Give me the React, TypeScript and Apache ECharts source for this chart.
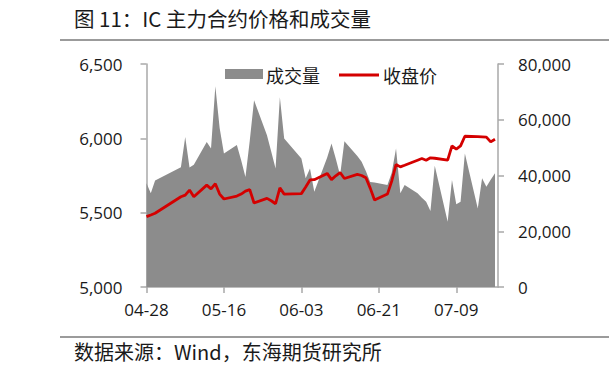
import React, { useEffect, useRef } from "react";
import * as echarts from "echarts";

// Trading days (2025)
const tradeDates = [
  "2025-04-28", "2025-04-29", "2025-04-30",
  "2025-05-06", "2025-05-07", "2025-05-08", "2025-05-09",
  "2025-05-12", "2025-05-13", "2025-05-14", "2025-05-15", "2025-05-16",
  "2025-05-19", "2025-05-20", "2025-05-21", "2025-05-22", "2025-05-23",
  "2025-05-26", "2025-05-27", "2025-05-28", "2025-05-29", "2025-05-30",
  "2025-06-03", "2025-06-04", "2025-06-05", "2025-06-06",
  "2025-06-09", "2025-06-10", "2025-06-11", "2025-06-12", "2025-06-13",
  "2025-06-16", "2025-06-17", "2025-06-18", "2025-06-19", "2025-06-20",
  "2025-06-23", "2025-06-24", "2025-06-25", "2025-06-26", "2025-06-27",
  "2025-06-30", "2025-07-01", "2025-07-02", "2025-07-03", "2025-07-04",
  "2025-07-07", "2025-07-08", "2025-07-09", "2025-07-10", "2025-07-11",
  "2025-07-14", "2025-07-15", "2025-07-16", "2025-07-17", "2025-07-18",
];

// 收盘价 (left axis)
const closePrice = [
  5473, 5484, 5496,
  5607, 5618, 5652, 5607,
  5685, 5660, 5695, 5625, 5592,
  5612, 5625, 5645, 5655, 5565,
  5596, 5580, 5560, 5667, 5625,
  5628, 5672, 5720, 5722,
  5764, 5722, 5748, 5770, 5730,
  5757, 5750, 5735, 5665, 5585,
  5625, 5712, 5824, 5808, 5819,
  5853, 5864, 5853, 5869, 5866,
  5853, 5949, 5927, 5949, 6014,
  6012, 6010, 6008, 5976, 5994,
];

// 成交量 (right axis)
const volume = [
  37200, 33600, 38200,
  43000, 53800, 42900, 43900,
  52000, 49700, 72000, 57000, 47900,
  50900, 45500, 39500, 52500, 67000,
  54400, 48500, 42500, 68100, 53300,
  46100, 39000, 42500, 34200,
  46500, 51500, 46000, 40100, 52300,
  47000, 44900, 41500, 37700, 37500,
  36600, 41000, 49700, 33600, 36600,
  33600, 32000, 30600, 27300, 43500,
  23400, 38400, 29700, 30600, 47900,
  28200, 39000, 36000, 38500, 40800,
];

const axisStartDate = "2025-04-28";
const xTickDays = [0, 18, 36, 54, 72]; // 04-28, 05-16, 06-03, 06-21, 07-09
const leftTicks = [5000, 5500, 6000, 6500];
const rightTicks = [0, 20000, 40000, 60000, 80000];

const titleText = "图 11：IC 主力合约价格和成交量";
const sourceText = "数据来源：Wind，东海期货研究所";
const volumeName = "成交量";
const priceName = "收盘价";

const DAY = 86400000;
const toUTC = (s: string) => {
  const [y, m, d] = s.split("-").map(Number);
  return Date.UTC(y, m - 1, d);
};
const startUTC = toUTC(axisStartDate);
const dayOffset = (s: string) => Math.round((toUTC(s) - startUTC) / DAY);
const fmtDay = (v: number) => {
  const t = new Date(startUTC + Math.round(v) * DAY);
  const mm = String(t.getUTCMonth() + 1).padStart(2, "0");
  const dd = String(t.getUTCDate()).padStart(2, "0");
  return `${mm}-${dd}`;
};

const numFmt = (v: number) =>
  String(Math.round(v)).replace(/\B(?=(\d{3})+(?!\d))/g, ",");

export default function App() {
  const ref = useRef<HTMLDivElement>(null);

  useEffect(() => {
    if (!ref.current) return;
    const chart = echarts.init(ref.current, undefined, { renderer: "svg" });
    const priceData = tradeDates.map((d, i) => [dayOffset(d), closePrice[i]]);
    const volData = tradeDates.map((d, i) => [dayOffset(d), volume[i]]);
    const axisColor = "#a8a8a8";
    const labelFont = "'Open Sans', 'Noto Sans', sans-serif";
    const cjk = "'Noto Sans CJK SC', 'Noto Sans', sans-serif";

    chart.setOption({
      animation: false,
      backgroundColor: "#ffffff",
      grid: { left: 146.5, right: 111, top: 64, bottom: 84, containLabel: false },
      xAxis: {
        type: "value",
        min: 0,
        max: 81.7,
        interval: 18,
        splitLine: { show: false },
        axisLine: { show: true, lineStyle: { color: axisColor, width: 1.5 } },
        axisTick: { show: true, length: 6, lineStyle: { color: axisColor, width: 1.5 }, customValues: xTickDays },
        axisLabel: {
          customValues: xTickDays,
          formatter: (v: number) => (xTickDays.includes(Math.round(v)) ? fmtDay(v) : ""),
          color: "#1a1a1a",
          fontSize: 17,
          fontFamily: labelFont,
          margin: 14,
        },
      },
      yAxis: [
        {
          type: "value",
          min: leftTicks[0],
          max: leftTicks[leftTicks.length - 1],
          interval: leftTicks[1] - leftTicks[0],
          position: "left",
          splitLine: { show: false },
          axisLine: { show: true, lineStyle: { color: axisColor, width: 1.5 } },
          axisTick: { show: true, length: 6, lineStyle: { color: axisColor, width: 1.5 } },
          axisLabel: { formatter: numFmt, color: "#1a1a1a", fontSize: 17, fontFamily: labelFont, margin: 24 },
        },
        {
          type: "value",
          min: rightTicks[0],
          max: rightTicks[rightTicks.length - 1],
          interval: rightTicks[1] - rightTicks[0],
          position: "right",
          splitLine: { show: false },
          axisLine: { show: true, lineStyle: { color: axisColor, width: 1.5 } },
          axisTick: { show: true, length: 6, lineStyle: { color: axisColor, width: 1.5 } },
          axisLabel: { formatter: numFmt, color: "#1a1a1a", fontSize: 17, fontFamily: labelFont, margin: 20 },
        },
      ],
      series: [
        {
          name: volumeName,
          type: "line",
          yAxisIndex: 1,
          data: volData,
          showSymbol: false,
          symbol: "none",
          lineStyle: { width: 0, color: "#8c8c8c" },
          areaStyle: { color: "#8c8c8c", opacity: 1 },
          z: 1,
        },
        {
          name: priceName,
          type: "line",
          yAxisIndex: 0,
          data: priceData,
          showSymbol: false,
          symbol: "none",
          lineStyle: { width: 2.8, color: "#d40000" },
          z: 3,
        },
      ],
      graphic: [
        {
          type: "text",
          left: 74,
          top: 8,
          style: { text: titleText, fill: "#1a1a1a", font: `20.5px ${cjk}` },
        },
        {
          type: "line",
          shape: { x1: 60, y1: 40, x2: 609, y2: 40 },
          style: { stroke: "#7a7a7a", lineWidth: 1.5 },
        },
        {
          type: "line",
          shape: { x1: 60, y1: 337, x2: 609, y2: 337 },
          style: { stroke: "#7a7a7a", lineWidth: 1.5 },
        },
        {
          type: "text",
          left: 74,
          top: 341,
          style: { text: sourceText, fill: "#1a1a1a", font: `20px ${cjk}` },
        },
        {
          type: "rect",
          shape: { x: 225, y: 69, width: 38, height: 10 },
          style: { fill: "#8c8c8c" },
        },
        {
          type: "text",
          x: 266,
          y: 75,
          style: { text: volumeName, fill: "#1a1a1a", font: `18px ${cjk}`, verticalAlign: "middle" },
        },
        {
          type: "line",
          shape: { x1: 339, y1: 75, x2: 379, y2: 75 },
          style: { stroke: "#d40000", lineWidth: 3 },
        },
        {
          type: "text",
          x: 383,
          y: 75,
          style: { text: priceName, fill: "#1a1a1a", font: `18px ${cjk}`, verticalAlign: "middle" },
        },
      ],
    });
    return () => chart.dispose();
  }, []);

  return (
    <div
      ref={ref}
      style={{ position: "fixed", left: 0, top: 0, width: 609, height: 371, background: "#fff" }}
    />
  );
}
